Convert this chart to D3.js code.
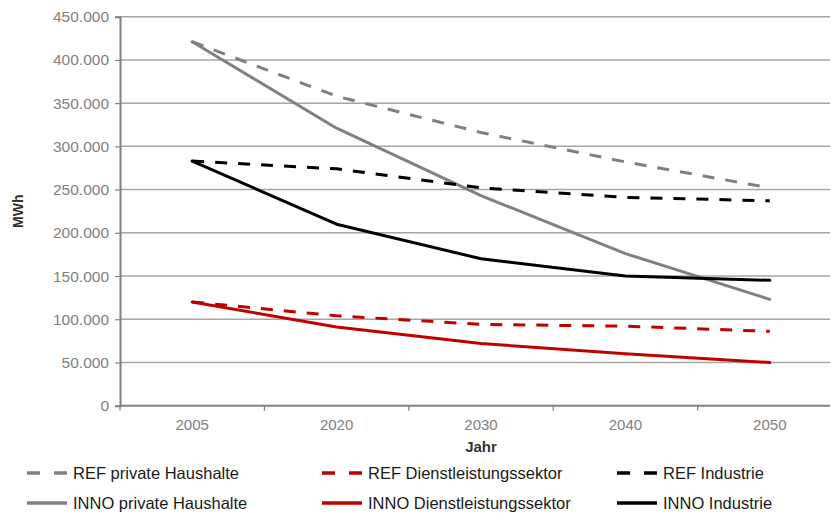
<!DOCTYPE html>
<html>
<head>
<meta charset="utf-8">
<script src="https://cdn.jsdelivr.net/npm/d3@7"></script>
<style>
  html, body { margin: 0; padding: 0; background: #fff; }
  svg { display: block; font-family: "Liberation Sans", Arial, sans-serif; }
</style>
</head>
<body>
<svg id="chart" width="831" height="513"></svg>
<script>
// Energy demand by sector and scenario (MWh)
const years = ["2005", "2020", "2030", "2040", "2050"];
const refHaushalte   = [421000, 358000, 316000, 282000, 252000];
const innoHaushalte  = [421000, 321000, 243000, 176000, 123000];
const refDienst      = [120000, 104000, 94000, 92000, 86000];
const innoDienst     = [120000, 91000, 72000, 60000, 50000];
const refIndustrie   = [283000, 274000, 252000, 241000, 237000];
const innoIndustrie  = [283000, 210000, 170000, 150000, 145000];
const yTicks = [0, 50000, 100000, 150000, 200000, 250000, 300000, 350000, 400000, 450000];

const series = [
  { name: "REF private Haushalte",        values: refHaushalte,  color: "#808080", dashed: true,  col: 0, row: 0 },
  { name: "REF Dienstleistungssektor",    values: refDienst,     color: "#c00000", dashed: true,  col: 1, row: 0 },
  { name: "REF Industrie",                values: refIndustrie,  color: "#000000", dashed: true,  col: 2, row: 0 },
  { name: "INNO private Haushalte",       values: innoHaushalte, color: "#808080", dashed: false, col: 0, row: 1 },
  { name: "INNO Dienstleistungssektor",   values: innoDienst,    color: "#c00000", dashed: false, col: 1, row: 1 },
  { name: "INNO Industrie",               values: innoIndustrie, color: "#000000", dashed: false, col: 2, row: 1 }
];

const de = d3.formatLocale({ decimal: ",", thousands: ".", grouping: [3], currency: ["", " €"] });
const fmt = de.format(",");

const svg = d3.select("#chart");
const plotLeft = 120, plotRight = 830, plotTop = 16.7, plotBottom = 405.7;

const x = d3.scaleBand().domain(years).range([plotLeft, plotLeft + 5 * 144.4]).paddingInner(0).paddingOuter(0);
const y = d3.scaleLinear().domain([0, 450000]).range([plotBottom, plotTop]);
const cx = d => x(d) + x.bandwidth() / 2;

// horizontal gridlines
svg.append("g")
  .selectAll("line")
  .data(yTicks.filter(t => t > 0))
  .join("line")
  .attr("x1", plotLeft).attr("x2", plotRight)
  .attr("y1", d => y(d)).attr("y2", d => y(d))
  .attr("stroke", "#a6a6a6").attr("stroke-width", 1.5);

// y axis
const yAxis = svg.append("g")
  .attr("transform", `translate(${plotLeft},0)`)
  .call(d3.axisLeft(y).tickValues(yTicks).tickFormat(fmt).tickSize(5).tickPadding(6));
yAxis.select(".domain").attr("stroke", "#808080").attr("stroke-width", 2);
yAxis.selectAll(".tick line").attr("stroke", "#808080").attr("stroke-width", 1.2);
yAxis.selectAll(".tick text").attr("fill", "#808080").attr("font-size", 15.5)
  .attr("font-family", "Liberation Sans, Arial, sans-serif");

// x axis
const xAxis = svg.append("g")
  .attr("transform", `translate(0,${plotBottom})`)
  .call(d3.axisBottom(x).tickSize(0).tickPadding(14));
xAxis.select(".domain").attr("d", `M${plotLeft},0H${plotRight}`).attr("stroke", "#808080").attr("stroke-width", 2);
xAxis.selectAll(".tick text").attr("fill", "#808080").attr("font-size", 15)
  .attr("font-family", "Liberation Sans, Arial, sans-serif");
// category boundary ticks
xAxis.append("g")
  .selectAll("line")
  .data(years.map(d => x(d)).concat([x(years[years.length - 1]) + x.bandwidth()]).filter(v => v <= plotRight))
  .join("line")
  .attr("x1", d => d).attr("x2", d => d)
  .attr("y1", 0).attr("y2", 5)
  .attr("stroke", "#808080").attr("stroke-width", 1.2);

// axis titles
svg.append("text")
  .attr("transform", `translate(23,${(plotTop + plotBottom) / 2}) rotate(-90)`)
  .attr("text-anchor", "middle")
  .attr("font-size", 14).attr("font-weight", "bold").attr("fill", "#333")
  .text("MWh");
svg.append("text")
  .attr("x", (plotLeft + plotRight) / 2 + 6).attr("y", 452)
  .attr("text-anchor", "middle")
  .attr("font-size", 15).attr("font-weight", "bold").attr("fill", "#333")
  .text("Jahr");

// lines
const line = d3.line()
  .x((d, i) => cx(years[i]))
  .y(d => y(d));

const drawOrder = [3, 0, 4, 1, 5, 2];
svg.append("g")
  .selectAll("path")
  .data(drawOrder.map(i => series[i]))
  .join("path")
  .attr("d", d => line(d.values))
  .attr("fill", "none")
  .attr("stroke", d => d.color)
  .attr("stroke-width", 3)
  .attr("stroke-linejoin", "round")
  .attr("stroke-linecap", d => d.dashed ? "butt" : "round")
  .attr("stroke-dasharray", d => d.dashed ? "12,11" : null);

// legend
const legendCols = [27, 322, 617];
const legendRows = [473, 503];
const lg = svg.append("g")
  .selectAll("g")
  .data(series)
  .join("g")
  .attr("transform", d => `translate(${legendCols[d.col]},${legendRows[d.row]})`);
lg.append("line")
  .attr("x1", 0).attr("x2", 40).attr("y1", 0).attr("y2", 0)
  .attr("stroke", d => d.color).attr("stroke-width", 3.5)
  .attr("stroke-dasharray", d => d.dashed ? "13,14" : null);
lg.append("text")
  .attr("x", 46).attr("y", 0).attr("dy", "0.35em")
  .attr("font-size", 16.5).attr("fill", "#1a1a1a")
  .text(d => d.name);
</script>
</body>
</html>
